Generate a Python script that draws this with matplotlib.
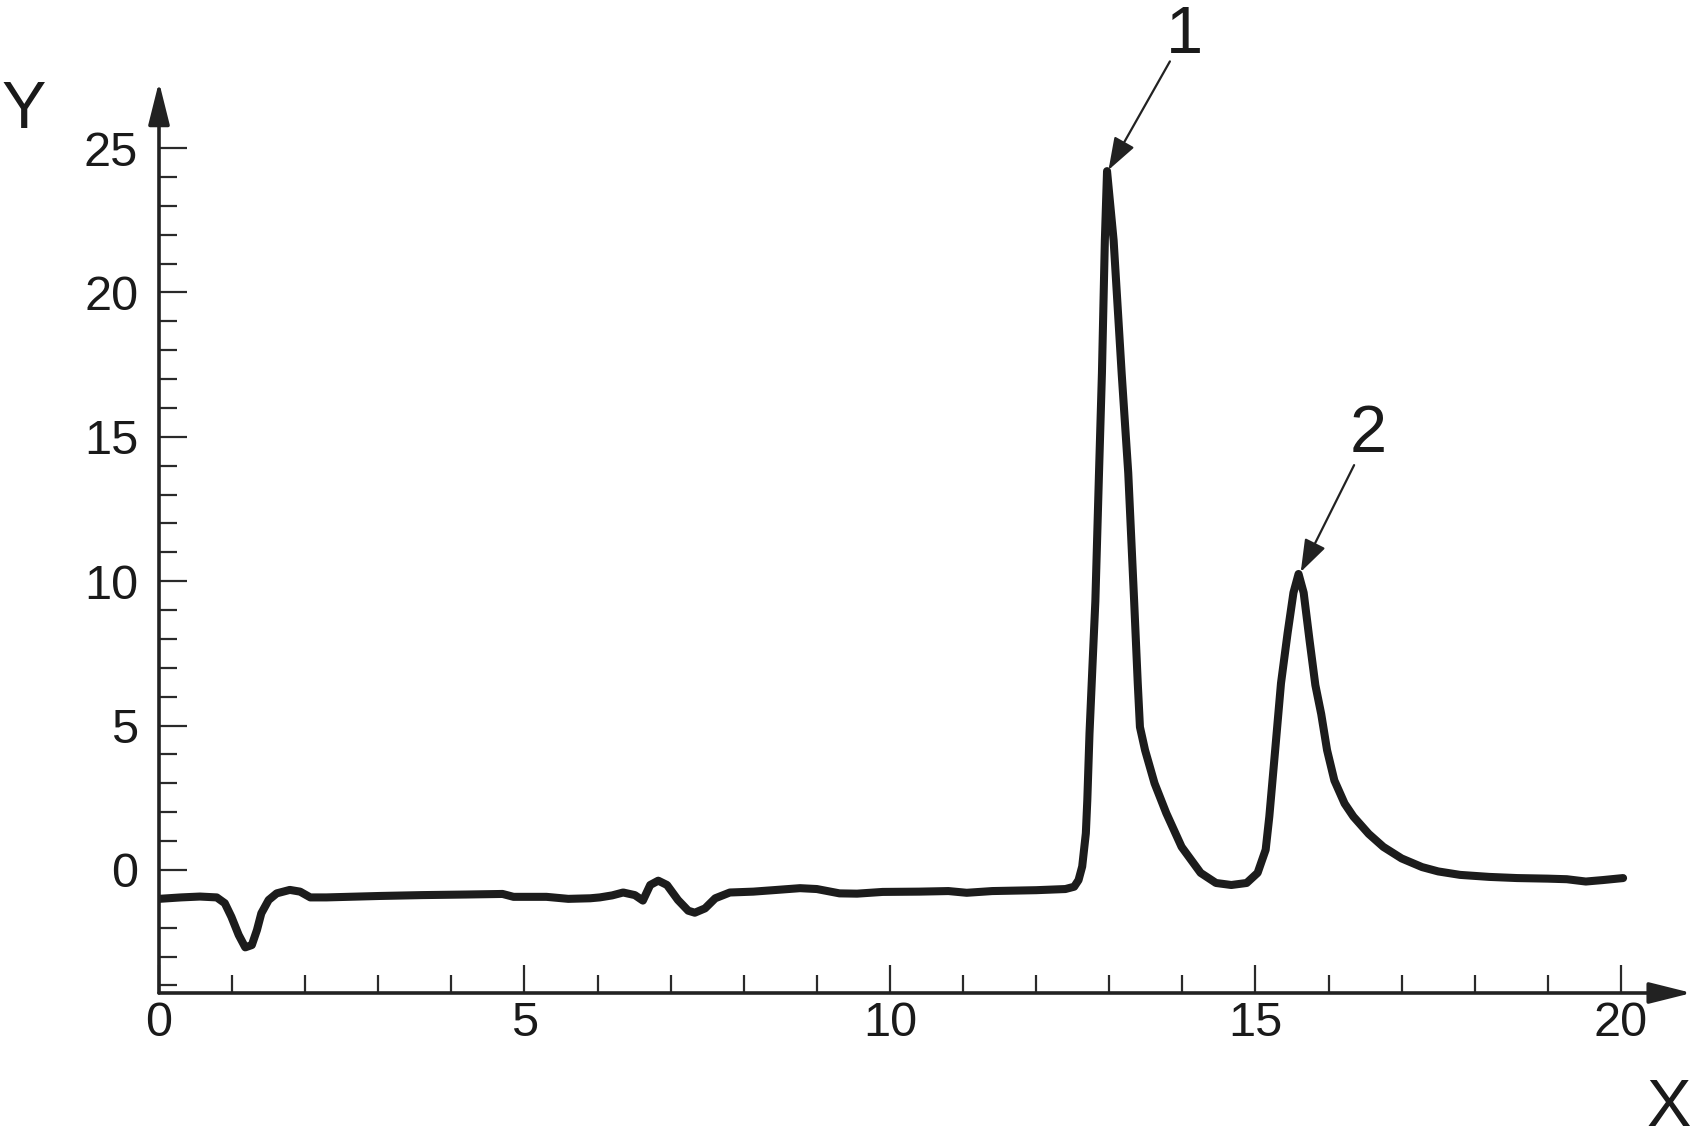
import matplotlib
matplotlib.use("Agg")
import matplotlib.pyplot as plt
from matplotlib.ticker import FixedLocator

plt.rcParams['font.family'] = ['Liberation Sans', 'DejaVu Sans']

# ---- data ----
x_vals = [0.00, 0.30, 0.56, 0.79, 0.90, 0.99, 1.09, 1.18, 1.27, 1.34, 1.40, 1.50,
          1.61, 1.79, 1.93, 2.07, 2.29, 3.02, 3.60, 4.20, 4.70, 4.85, 5.30,
          5.60, 5.90, 6.03, 6.20, 6.35, 6.51, 6.62, 6.72, 6.83, 6.95, 7.10, 7.24,
          7.33, 7.47, 7.61, 7.81, 8.13, 8.40, 8.77, 9.00, 9.31, 9.55, 9.90, 10.40,
          10.80, 11.05, 11.40, 12.00, 12.40, 12.52, 12.58, 12.63, 12.68, 12.70,
          12.73, 12.77, 12.81, 12.86, 12.90, 12.94, 12.97, 13.06, 13.17, 13.26,
          13.34, 13.39, 13.42, 13.49, 13.62, 13.78, 13.99, 14.25, 14.46, 14.67,
          14.88, 15.03, 15.14, 15.19, 15.27, 15.35, 15.44, 15.52, 15.59, 15.66,
          15.74, 15.82, 15.90, 15.98, 16.08, 16.22, 16.34, 16.55, 16.75, 17.00,
          17.28, 17.50, 17.80, 18.20, 18.58, 19.00, 19.26, 19.52, 19.75, 20.03]
y_vals = [-1.00, -0.95, -0.92, -0.95, -1.15, -1.62, -2.25, -2.68, -2.60, -2.08, -1.50, -1.04,
          -0.81, -0.69, -0.75, -0.95, -0.95, -0.90, -0.87, -0.85, -0.83, -0.93, -0.93,
          -1.00, -0.98, -0.95, -0.88, -0.78, -0.87, -1.06, -0.52, -0.37, -0.52, -1.04, -1.41,
          -1.48, -1.33, -0.98, -0.78, -0.75, -0.70, -0.63, -0.66, -0.81, -0.82, -0.76, -0.75,
          -0.73, -0.79, -0.73, -0.70, -0.66, -0.58, -0.35, 0.12, 1.27, 2.42,
          4.73, 7.04, 9.30, 13.75, 17.20, 21.80, 24.20, 21.80, 17.20, 13.75,
          9.35, 6.47, 4.95, 4.15, 3.00, 1.97, 0.80, -0.10, -0.45, -0.52,
          -0.45, -0.10, 0.70, 1.85, 4.15, 6.47, 8.20, 9.60, 10.25, 9.60,
          7.96, 6.40, 5.40, 4.15, 3.10, 2.30, 1.85, 1.25, 0.80, 0.40,
          0.10, -0.05, -0.17, -0.24, -0.28, -0.30, -0.32, -0.40, -0.35, -0.28]

x_major = [0, 5, 10, 15, 20]
x_minor = list(range(1, 20))
y_major = [0, 5, 10, 15, 20, 25]
y_minor = list(range(-4, 25))
x_ticklabels = ["0", "5", "10", "15", "20"]
y_ticklabels = ["0", "5", "10", "15", "20", "25"]

peak_labels = ["1", "2"]
peak_tips = [(12.99, 24.24), (15.62, 10.32)]
peak_arrow_starts = [(13.83, 28.0), (16.35, 14.02)]

# ---- figure ----
W, H = 1695, 1143
fig = plt.figure(figsize=(W / 100, H / 100), dpi=100)
ax = fig.add_axes([159 / W, 1 - 993 / H, 1535 / W, (993 - 81.6) / H])

XMIN, XMAX = 0, 21.0
YMIN, YMAX = -4.26, 27.3
ax.set_xlim(XMIN, XMAX)
ax.set_ylim(YMIN, YMAX)

ink = '#1c1c1c'
ax.plot(x_vals, y_vals, color=ink, lw=5.8, solid_joinstyle='round',
        solid_capstyle='round', zorder=3)

for s in ax.spines.values():
    s.set_visible(False)

# axis arrows
arrow_kw = dict(arrowstyle='-|>,head_length=2.6,head_width=0.65', lw=2.6,
                color='#222222', shrinkA=0, shrinkB=0, mutation_scale=10)
ax.annotate('', xy=(20.97, YMIN), xytext=(0, YMIN), arrowprops=arrow_kw,
            annotation_clip=False)
ax.annotate('', xy=(0, 27.29), xytext=(0, YMIN), arrowprops=arrow_kw,
            annotation_clip=False)

ax.xaxis.set_major_locator(FixedLocator(x_major))
ax.xaxis.set_minor_locator(FixedLocator(x_minor))
ax.yaxis.set_major_locator(FixedLocator(y_major))
ax.yaxis.set_minor_locator(FixedLocator(y_minor))
ax.set_xticklabels(x_ticklabels)
ax.set_yticklabels(y_ticklabels)

ax.tick_params(axis='both', which='major', direction='in', length=20, width=1.6,
               color='#2a2a2a', labelsize=35, labelcolor='#1a1a1a')
ax.tick_params(axis='both', which='minor', direction='in', length=13, width=1.6,
               color='#2a2a2a')
ax.tick_params(axis='x', which='major', pad=6)
ax.tick_params(axis='y', which='major', pad=15)

# peak annotations
for lab, tip, start in zip(peak_labels, peak_tips, peak_arrow_starts):
    ax.annotate('', xy=tip, xytext=start,
                arrowprops=dict(arrowstyle='-|>,head_length=2.0,head_width=0.7',
                                lw=1.6, color='#222222', shrinkA=0, shrinkB=0,
                                mutation_scale=10),
                annotation_clip=False, zorder=4)

fig.text(1184 / W, 1 - 53 / H, peak_labels[0], ha='center', va='baseline',
         fontsize=48, color='#1a1a1a')
fig.text(1368 / W, 1 - 452 / H, peak_labels[1], ha='center', va='baseline',
         fontsize=48, color='#1a1a1a')

# axis letters
fig.text(24 / W, 1 - 128 / H, 'Y', ha='center', va='baseline', fontsize=48,
         color='#1a1a1a')
fig.text(1669 / W, 1 - 1126 / H, 'X', ha='center', va='baseline', fontsize=48,
         color='#1a1a1a')

fig.savefig('out.png', dpi=100, facecolor='white')
